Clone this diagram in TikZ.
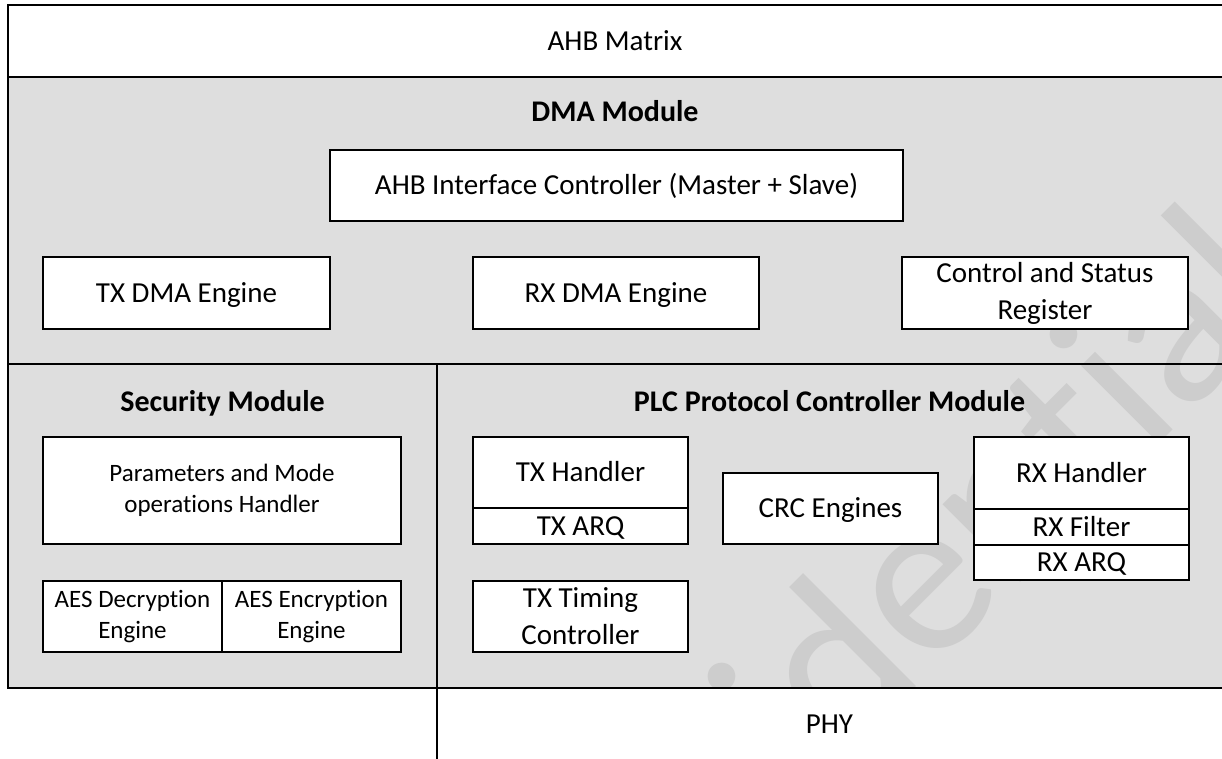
\documentclass[tikz,border=0pt]{standalone}
\usepackage{fontspec}
\setmainfont{Carlito}[Ligatures={NoCommon}]
\definecolor{bggray}{RGB}{222,222,222}
\definecolor{wmgray}{RGB}{205,205,205}
\tikzset{
  regfill/.style={fill=bggray, draw=none, inner sep=0pt, outer sep=0pt},
  regline/.style={draw=black, line width=1.6pt},
  basebox/.style={draw=black, fill=white, line width=1.3pt, inner sep=0pt, outer sep=0pt,
    align=center, font=\fontsize{29}{37}\selectfont},
  box/.style={basebox, text height=18.7pt, text depth=0pt},
  twobox/.style={basebox},
  smallbox/.style={basebox, font=\fontsize{25}{30.5}\selectfont},
  plain/.style={inner sep=0pt, font=\fontsize{29}{37}\selectfont, text height=18.7pt, text depth=0pt},
  title/.style={inner sep=0pt, font=\fontsize{30}{37}\selectfont\bfseries, text height=19.3pt, text depth=0pt},
  wmark/.style={inner sep=0pt, text=wmgray, font=\fontsize{230}{230}\selectfont}
}
\begin{document}
\begin{tikzpicture}[x=1pt,y=-1pt]
\useasboundingbox (0,0) rectangle (1222,758);
% region fills
\node[regfill, fill=white, minimum width=1232pt, minimum height=72pt] (ahb) at (624,41) {};
\node[regfill, minimum width=1232pt, minimum height=287pt] (dma) at (624,220.5) {};
\node[regfill, minimum width=429pt, minimum height=324pt] (sec) at (222.5,526) {};
\node[regfill, minimum width=803pt, minimum height=324pt] (plc) at (838.5,526) {};
\node[regfill, fill=white, minimum width=803pt, minimum height=92pt] (phy) at (838.5,734) {};
% watermark
\begin{scope}
\clip (8,77) rectangle (1222,688);
\node[wmark, rotate=45, anchor=base west] (wm) at (499,1104) {Confidential};
\end{scope}
% region borders
\foreach \r in {ahb,dma,sec,plc,phy}
  \draw[regline] (\r.north west) rectangle (\r.south east);
% labels and titles
\node[plain] (ahbl) at (615,41) {AHB Matrix};
\node[title] (dmat) at (615,112) {DMA Module};
\node[title] (sect) at (222.5,402) {Security Module};
\node[title] (plct) at (829.5,402) {PLC Protocol Controller Module};
\node[plain] (phyl) at (829.5,724) {PHY};
% DMA module
\node[box, minimum width=573pt, minimum height=71pt] (ahbif) at (616.5,185.5) {AHB Interface Controller (Master + Slave)};
\node[box, minimum width=287pt, minimum height=72pt] (txdma) at (186.5,293) {TX DMA Engine};
\node[box, minimum width=286pt, minimum height=72pt] (rxdma) at (616,293) {RX DMA Engine};
\node[twobox, minimum width=286pt, minimum height=72pt] (csr) at (1045,293) {Control and Status\\Register};
% Security module
\node[smallbox, minimum width=358pt, minimum height=107pt] (param) at (222,490.5) {Parameters and Mode\\operations Handler};
\node[smallbox, minimum width=179pt, minimum height=71pt] (aesd) at (132.5,616.5) {AES Decryption\\Engine};
\node[smallbox, minimum width=179pt, minimum height=71pt] (aese) at (311.5,616.5) {AES Encryption\\Engine};
% PLC module
\node[box, minimum width=215pt, minimum height=71pt] (txh) at (580.5,472.5) {TX Handler};
\node[box, minimum width=215pt, minimum height=36pt] (txarq) at (580.5,526) {TX ARQ};
\node[box, minimum width=215pt, minimum height=71pt] (crc) at (830.5,508.5) {CRC Engines};
\node[twobox, minimum width=215pt, minimum height=71pt] (txt) at (580.5,616.5) {TX Timing\\Controller};
\node[box, minimum width=215pt, minimum height=72pt] (rxh) at (1081.5,473) {RX Handler};
\node[box, minimum width=215pt, minimum height=36pt] (rxf) at (1081.5,527) {RX Filter};
\node[box, minimum width=215pt, minimum height=35pt] (rxarq) at (1081.5,562.5) {RX ARQ};
\end{tikzpicture}
\end{document}
